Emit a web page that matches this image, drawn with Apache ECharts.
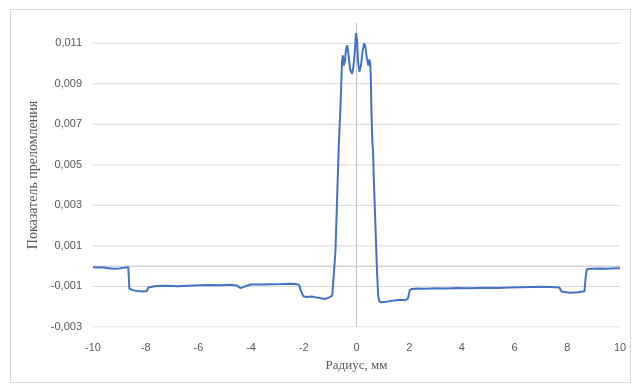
<!DOCTYPE html>
<html>
<head>
<meta charset="utf-8">
<script src="https://cdn.jsdelivr.net/npm/echarts@6/dist/echarts.min.js"></script>
<style>html,body{margin:0;padding:0;background:#fff;}#chart{width:632px;height:385px;}</style>
</head>
<body>
<div id="chart"></div>
<script>
// Radius (mm)
const radius = [
  -10, -9.8, -9.6, -9.4, -9.2, -9.0, -8.8, -8.66, -8.62, -8.58, -8.5, -8.3, -8.1, -7.95, -7.9, -7.85,
  -7.6, -7.2, -6.8, -6.4, -6.0, -5.6, -5.2, -4.8, -4.55, -4.4, -4.33, -4.2, -4.0, -3.6, -3.2, -2.8, -2.5, -2.3, -2.18, -2.1, -2.02,
  -1.9, -1.7, -1.5, -1.35, -1.2, -1.05, -0.92, -0.85, -0.8, -0.76, -0.72, -0.67, -0.62, -0.58, -0.55, -0.52,
  -0.48, -0.44, -0.40, -0.35, -0.30, -0.24, -0.17, -0.12, -0.07, -0.02, 0.02, 0.06, 0.11, 0.17, 0.23, 0.29, 0.34,
  0.40, 0.45, 0.49, 0.52, 0.54, 0.57, 0.60, 0.63, 0.66, 0.70, 0.74, 0.78, 0.82, 0.86, 0.95, 1.1, 1.3, 1.5, 1.7, 1.85, 1.95,
  2.02, 2.1, 2.3, 2.6, 3.0, 3.4, 3.8, 4.2, 4.6, 5.0, 5.4, 5.8, 6.2, 6.6, 7.0, 7.4, 7.7, 7.78, 7.85, 8.1, 8.4, 8.65,
  8.7, 8.74, 8.9, 9.2, 9.5, 9.8, 10
];
// Refractive index difference
const refractive = [
  -0.00005, -0.00006, -0.00006, -0.00010, -0.00012, -0.00011, -0.00007, -0.00005, -0.00110, -0.00118, -0.00118, -0.00122, -0.00125, -0.00122, -0.00105, -0.00098,
  -0.00098, -0.00097, -0.00099, -0.00096, -0.00094, -0.00093, -0.00094, -0.00092, -0.00095, -0.00108, -0.00112, -0.00098, -0.00090, -0.00090, -0.00089, -0.00088, -0.00086, -0.00088, -0.00092, -0.00125, -0.00148,
  -0.00152, -0.00150, -0.00155, -0.00158, -0.00162, -0.00155, -0.00145, -0.00140, 0.00070, 0.00230, 0.00400, 0.00600, 0.00750, 0.00890, 0.01010, 0.01040,
  0.00990, 0.01010, 0.01070, 0.01090, 0.01040, 0.00970, 0.00950, 0.00980, 0.01050, 0.01150, 0.01120, 0.01010, 0.00960, 0.00990, 0.01060, 0.01100, 0.01080,
  0.01020, 0.00990, 0.01020, 0.01000, 0.00950, 0.00750, 0.00620, 0.00560, 0.00420, 0.00270, 0.00120, -0.00030, -0.00140, -0.00172, -0.00178, -0.00176, -0.00172, -0.00168, -0.00165, -0.00168, -0.00160,
  -0.00120, -0.00112, -0.00110, -0.00111, -0.00109, -0.00110, -0.00108, -0.00109, -0.00107, -0.00106, -0.00107, -0.00105, -0.00104, -0.00103, -0.00102, -0.00103, -0.00105, -0.00125, -0.00132, -0.00131, -0.00129, -0.00124,
  -0.00050, -0.00015, -0.00012, -0.00011, -0.00012, -0.00010, -0.00010
];
// Labelled y gridlines
const yGridValues = [-0.003, -0.001, 0.001, 0.003, 0.005, 0.007, 0.009, 0.011];
const xRange = [-10, 10];
const yRange = [-0.003, 0.012];
const xTickStep = 2;

const points = radius.map((r, i) => [r, refractive[i]]);

const chart = echarts.init(document.getElementById('chart'), null, {renderer: 'canvas'});
const gridColor = '#d9d9d9';
const axisColor = '#bfbfbf';
const labelColor = '#595959';

function refLine(data, color) {
  return {
    type: 'line', z: 1, silent: true, data: data,
    showSymbol: false, symbol: 'none',
    lineStyle: {color: color, width: 1}
  };
}

const gridSeries = yGridValues.map(v => refLine([[xRange[0], v], [xRange[1], v]], gridColor));
gridSeries.push(refLine([[xRange[0], 0], [xRange[1], 0]], axisColor));
gridSeries.push(refLine([[0, yRange[0]], [0, yRange[1]]], axisColor));

chart.setOption({
  animation: false,
  backgroundColor: '#ffffff',
  graphic: [{
    type: 'rect',
    shape: {x: 10.5, y: 9.5, width: 620, height: 373},
    style: {fill: 'none', stroke: '#d9d9d9', lineWidth: 1},
    silent: true
  }],
  grid: {left: 93, right: 12, top: 23, bottom: 58, containLabel: false},
  xAxis: {
    type: 'value',
    min: xRange[0], max: xRange[1], interval: xTickStep,
    axisLine: {show: false},
    axisTick: {show: false},
    splitLine: {show: false},
    axisLabel: {color: labelColor, fontSize: 11, fontFamily: 'Liberation Sans', margin: 15},
    name: 'Радиус, мм',
    nameLocation: 'middle',
    nameGap: 32,
    nameTextStyle: {color: labelColor, fontSize: 13, fontFamily: 'Liberation Serif'}
  },
  yAxis: {
    type: 'value',
    min: yRange[0], max: yRange[1], interval: 0.001,
    axisLine: {show: false},
    axisTick: {show: false},
    splitLine: {show: false},
    axisLabel: {
      color: labelColor, fontSize: 11, fontFamily: 'Liberation Sans', margin: 11,
      formatter: function (v) {
        const k = Math.round(v * 1000);
        if (k % 2 === 0) return '';
        return (k / 1000).toFixed(3).replace('.', ',');
      }
    },
    name: 'Показатель преломления',
    nameLocation: 'middle',
    nameGap: 49,
    nameTextStyle: {color: labelColor, fontSize: 14, fontFamily: 'Liberation Serif'}
  },
  series: gridSeries.concat([
    {
      type: 'line',
      z: 5,
      data: points,
      showSymbol: false,
      symbol: 'none',
      smooth: false,
      lineStyle: {color: '#4472c4', width: 2}
    }
  ])
});
</script>
</body>
</html>
